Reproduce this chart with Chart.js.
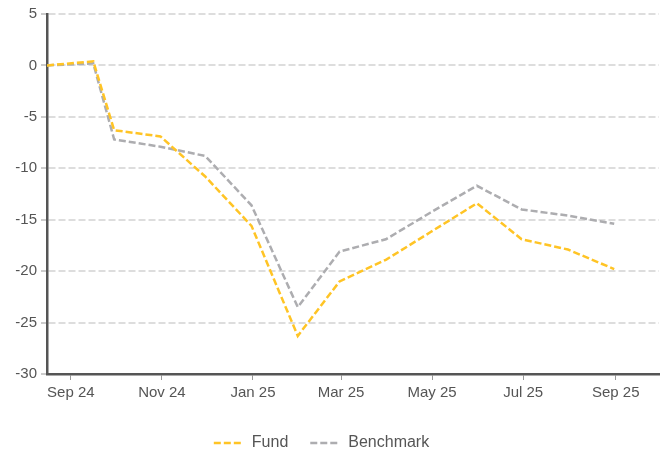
<!DOCTYPE html>
<html>
<head>
<meta charset="utf-8">
<script src="https://cdn.jsdelivr.net/npm/chart.js@4/dist/chart.umd.min.js"></script>
<style>
  html, body { margin: 0; padding: 0; background: #fff; }
  #wrap { width: 667px; height: 452px; }
</style>
</head>
<body>
<div id="wrap"><canvas id="perf"></canvas></div>
<script>
// observation dates (month ends after the first two)
const dates = [
  "2024-08-16", "2024-09-16", "2024-09-30", "2024-10-31", "2024-11-30", "2024-12-31",
  "2025-01-31", "2025-02-28", "2025-03-31", "2025-04-30", "2025-05-31", "2025-06-30",
  "2025-07-31", "2025-08-31"
];
const fund      = [0, 0.4, -6.3, -6.9, -10.8, -15.6, -26.3, -21.0, -18.9, -16.2, -13.4, -16.9, -17.9, -19.8];
const benchmark = [0, 0.2, -7.2, -7.9, -8.8, -13.6, -23.5, -18.1, -16.9, -14.3, -11.7, -14.0, -14.6, -15.4];

const tickDates  = ["2024-09-01", "2024-11-01", "2025-01-01", "2025-03-01", "2025-05-01", "2025-07-01", "2025-09-01"];
const tickLabels = ["Sep 24", "Nov 24", "Jan 25", "Mar 25", "May 25", "Jul 25", "Sep 25"];

const xMin = Date.parse("2024-08-16");
const xMax = Date.parse("2025-09-30");
const tickVals = tickDates.map(d => Date.parse(d));
const pts = arr => arr.map((v, i) => ({ x: Date.parse(dates[i]), y: v }));

const txt = "#555";
const font = "'Liberation Sans', Arial, sans-serif";

new Chart(document.getElementById("perf").getContext("2d"), {
  type: "line",
  data: {
    datasets: [
      {
        label: "Fund",
        data: pts(fund),
        borderColor: "#FFC425", backgroundColor: "#FFC425",
        borderWidth: 2.5, borderDash: [7, 3],
        pointRadius: 0, tension: 0, fill: false
      },
      {
        label: "Benchmark",
        data: pts(benchmark),
        borderColor: "#ADADB0", backgroundColor: "#ADADB0",
        borderWidth: 2.5, borderDash: [7, 3],
        pointRadius: 0, tension: 0, fill: false
      }
    ]
  },
  options: {
    responsive: true, maintainAspectRatio: false, animation: false,
    layout: { padding: { top: 14, right: 8, left: -16, bottom: 0 } },
    plugins: {
      tooltip: { enabled: false },
      legend: {
        position: "bottom",
        maxHeight: 39,
        labels: {
          usePointStyle: true, pointStyle: "line", pointStyleWidth: 30,
          padding: 22, color: txt,
          font: { family: font, size: 16 },
          // point style legend ignores the dataset dash, so copy it over
          generateLabels: chart =>
            Chart.defaults.plugins.legend.labels.generateLabels(chart).map(l => {
              const ds = chart.data.datasets[l.datasetIndex];
              l.lineDash = ds.borderDash;
              l.lineWidth = 2.5;
              l.strokeStyle = ds.borderColor;
              return l;
            })
        }
      }
    },
    scales: {
      x: {
        type: "linear", min: xMin, max: xMax,
        afterBuildTicks: s => { s.ticks = tickVals.map(v => ({ value: v })); },
        afterFit: s => { s.height = 39; },
        grid: { drawOnChartArea: false, tickLength: 6, tickColor: "#999", tickWidth: 1 },
        border: { display: true, color: "#555", width: 2.5 },
        ticks: {
          color: txt, padding: 4, maxRotation: 0, autoSkip: false,
          font: { family: font, size: 15 },
          callback: v => tickLabels[tickVals.indexOf(v)]
        }
      },
      y: {
        min: -30, max: 5,
        afterFit: s => { s.width = 63; },
        grid: {
          color: "#DDDDDD", lineWidth: 2,
          tickLength: 6, tickColor: "#999", tickWidth: 1, tickBorderDash: []
        },
        border: { display: true, color: "#555", width: 2.5, dash: [7, 3] },
        ticks: {
          stepSize: 5, color: txt, padding: 4,
          font: { family: font, size: 15 }
        }
      }
    }
  }
});
</script>
</body>
</html>
